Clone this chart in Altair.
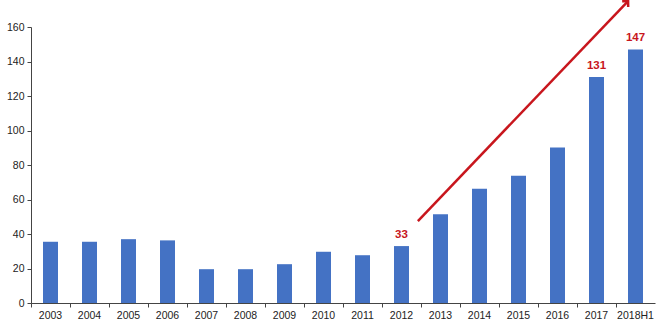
import altair as alt
import pandas as pd

years = ["2003", "2004", "2005", "2006", "2007", "2008", "2009", "2010",
         "2011", "2012", "2013", "2014", "2015", "2016", "2017", "2018H1"]
values = [35.5, 35.5, 37, 36.3, 19.6, 19.6, 22.5, 29.7,
          27.7, 33, 51.4, 66.3, 73.8, 90.1, 131, 147]
label_years = ["2012", "2017", "2018H1"]
label_values = [33, 131, 147]
label_texts = ["33", "131", "147"]

# trend arrow: from the 2012 slot to the 2018H1 slot, y in data units
arrow_from = ["2012"]
arrow_to = ["2018H1"]
arrow_y0 = [47.5]
arrow_y1 = [175]

df = pd.DataFrame({"year": years, "value": values})
lab = pd.DataFrame({"year": label_years, "value": label_values, "text": label_texts})
arr = pd.DataFrame({"x0": arrow_from, "x1": arrow_to, "y0": arrow_y0, "y1": arrow_y1})

W, H = 624, 276
font = "Liberation Sans"
red = "#c8161d"

xscale = alt.Scale(paddingInner=0, paddingOuter=0, domain=years)
yscale = alt.Scale(domain=[0, 160], nice=False)
xaxis = alt.Axis(title=None, labelAngle=0, labelFont=font, labelFontSize=10.5,
                 labelColor="#222", domainColor="#444", tickColor="#444",
                 tickSize=4, bandPosition=0, labelPadding=3, grid=False)
yaxis = alt.Axis(title=None, values=list(range(0, 161, 20)), labelFont=font,
                 labelFontSize=10.5, labelColor="#222", domainColor="#444",
                 tickColor="#444", tickSize=4, grid=False, labelPadding=3,
                 labelOverlap=False)

bars = alt.Chart(df).mark_bar(color="#4472c4", size=15).encode(
    x=alt.X("year:N", sort=years, scale=xscale, axis=xaxis),
    y=alt.Y("value:Q", scale=yscale, axis=yaxis),
)
texts = alt.Chart(lab).mark_text(color=red, font=font, fontSize=11.5,
                                 fontWeight="bold", baseline="bottom", dy=-6).encode(
    x=alt.X("year:N", sort=years, scale=xscale, axis=xaxis),
    y=alt.Y("value:Q", scale=yscale, axis=yaxis),
    text="text:N",
)
line = alt.Chart(arr).mark_rule(color=red, strokeWidth=2.5, clip=False).encode(
    x=alt.X("x0:N", sort=years, scale=xscale, axis=xaxis, bandPosition=0.92),
    x2=alt.X2("x1", bandPosition=0.31),
    y=alt.Y("y0:Q", scale=yscale, axis=yaxis),
    y2=alt.Y2("y1"),
)
tip = alt.Chart(arr).mark_point(shape="M -1 1 L 0 0 L 1 1", filled=False, color=red,
                                strokeWidth=2.5, size=70, angle=44, opacity=1,
                                clip=False).encode(
    x=alt.X("x1:N", sort=years, scale=xscale, axis=xaxis, bandPosition=0.31),
    y=alt.Y("y1:Q", scale=yscale, axis=yaxis),
)
chart = alt.layer(bars, texts, line, tip).properties(
    width=W, height=H,
    background="white",
    autosize=alt.AutoSizeParams(type="none"),
    padding={"left": 31, "top": 27, "right": 5, "bottom": 18},
).configure_view(strokeWidth=0, stroke="transparent")

chart.save("out.html", embed_options={"renderer": "svg", "actions": False})
